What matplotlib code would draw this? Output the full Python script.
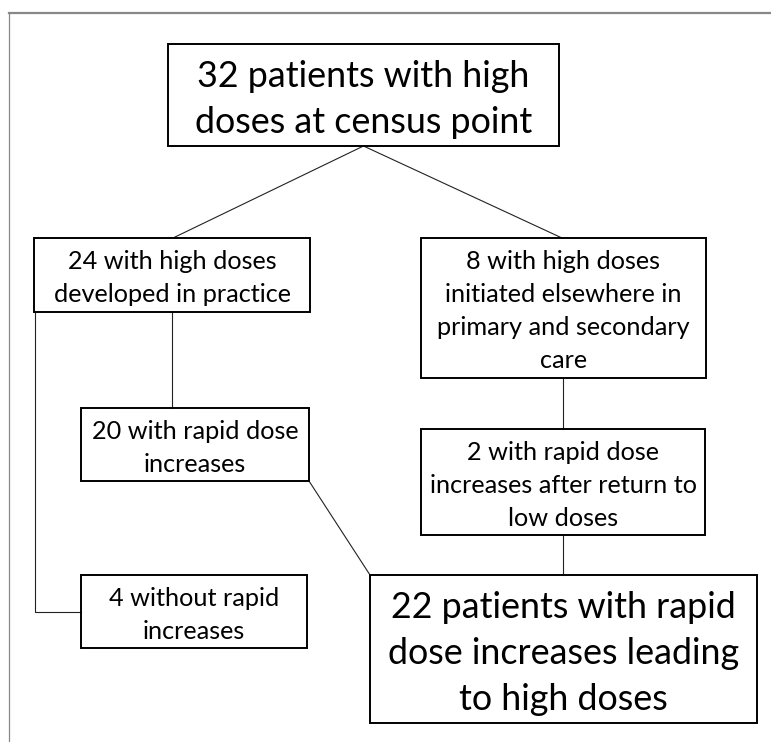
import matplotlib
matplotlib.use("Agg")
import matplotlib.pyplot as plt
from matplotlib.patches import Rectangle

# ---- data: node labels ----
top_label = ["32 patients with high", "doses at census point"]
practice_label = ["24 with high doses", "developed in practice"]
elsewhere_label = ["8 with high doses", "initiated elsewhere in", "primary and secondary", "care"]
rapid_label = ["20 with rapid dose", "increases"]
return_label = ["2 with rapid dose", "increases after return to", "low doses"]
without_label = ["4 without rapid", "increases"]
result_label = ["22 patients with rapid", "dose increases leading", "to high doses"]

W, H = 771, 742
fig = plt.figure(figsize=(W / 100, H / 100), dpi=100)
ax = fig.add_axes([0, 0, 1, 1])
ax.set_xlim(0, W)
ax.set_ylim(H, 0)
ax.axis("off")

FONT = "Lato"

# measure text widths to size fonts like the reference
renderer = fig.canvas.get_renderer()
def width_at(text, size):
    t = ax.text(0, 0, text, fontsize=size, family=FONT)
    w = t.get_window_extent(renderer=renderer).width
    t.remove()
    return w

fs_small = 100 * 237 / width_at("developed in practice", 100)
fs_big = 100 * 345 / width_at("22 patients with rapid", 100)

# layout (pixel coordinates: x0, y0, x1, y1)
boxes = [
    (top_label, (168, 44, 559, 146), fs_big, 46),
    (practice_label, (34, 238, 310, 312), fs_small, 33),
    (elsewhere_label, (421, 238, 706, 378), fs_small, 33),
    (rapid_label, (81, 408, 309, 481), fs_small, 33),
    (return_label, (421, 429, 705, 535), fs_small, 33),
    (without_label, (81, 575, 307, 648), fs_small, 33),
    (result_label, (370, 575, 757, 723), fs_big, 46),
]

for lines, (x0, y0, x1, y1), fs, gap in boxes:
    ax.add_patch(Rectangle((x0, y0), x1 - x0, y1 - y0, fill=False,
                           edgecolor="black", linewidth=1.4, zorder=3))
    cx, cy = (x0 + x1) / 2, (y0 + y1) / 2
    n = len(lines)
    for i, s in enumerate(lines):
        by = cy + (i - (n - 1) / 2) * gap + 0.33 * gap
        ax.text(cx, by, s, ha="center", va="baseline", fontsize=fs,
                family=FONT, color="black", zorder=4)

conn = dict(color="#222222", linewidth=0.8, zorder=2)
ax.plot([173, 363.5, 562], [238, 146, 238], **conn)
ax.plot([172, 172], [312, 408], **conn)
ax.plot([563, 563], [378, 429], **conn)
ax.plot([563, 563], [535, 575], **conn)
ax.plot([309, 370], [481, 575], **conn)
ax.plot([35, 35, 81], [312, 612, 612], **conn)

# outer frame
ax.plot([9, W], [13, 13], color="#888888", linewidth=1.6, zorder=1)
ax.plot([9, 9], [13, H], color="#888888", linewidth=0.9, zorder=1)

fig.savefig("out.png", dpi=100)
